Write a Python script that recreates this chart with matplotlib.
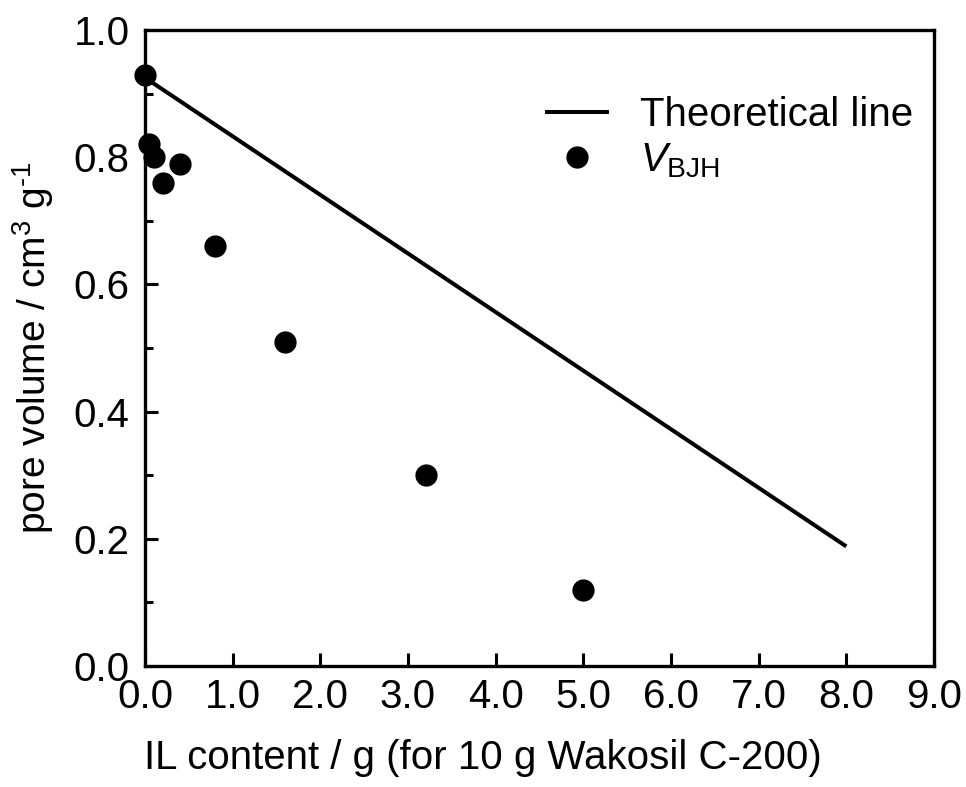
import matplotlib
matplotlib.use("Agg")
import matplotlib.pyplot as plt
from matplotlib.ticker import MultipleLocator, FormatStrFormatter

plt.rcParams['font.family'] = ['Liberation Sans', 'DejaVu Sans']
plt.rcParams['mathtext.fontset'] = 'custom'
plt.rcParams['mathtext.rm'] = 'Liberation Sans'
plt.rcParams['mathtext.it'] = 'Liberation Sans:italic'
plt.rcParams['mathtext.bf'] = 'Liberation Sans:bold'

# Data
theory_x = [0.0, 8.0]
theory_y = [0.925, 0.188]
il_content = [0.0, 0.05, 0.1, 0.2, 0.4, 0.8, 1.6, 3.2, 5.0]
v_bjh = [0.93, 0.82, 0.80, 0.76, 0.79, 0.66, 0.51, 0.30, 0.12]

fig = plt.figure(figsize=(9.66, 7.87), dpi=100)
ax = fig.add_axes([145/966, 1 - 666/787, (934-145)/966, (666-30)/787])

ax.plot(theory_x, theory_y, color='black', lw=2.9, label='Theoretical line', solid_capstyle='butt')
ax.plot(il_content, v_bjh, 'o', color='black', ms=15, label=r'$V_{\mathrm{BJH}}$', clip_on=False, zorder=5)

ax.set_xlim(0, 9)
ax.set_ylim(0, 1.0)
ax.xaxis.set_major_locator(MultipleLocator(1.0))
ax.yaxis.set_major_locator(MultipleLocator(0.2))
ax.yaxis.set_minor_locator(MultipleLocator(0.1))
ax.xaxis.set_major_formatter(FormatStrFormatter('%.1f'))
ax.yaxis.set_major_formatter(FormatStrFormatter('%.1f'))

ax.tick_params(axis='both', which='both', direction='in', top=False, right=False,
               labelsize=29, width=2.2)
ax.tick_params(axis='x', pad=9)
ax.tick_params(axis='y', pad=11)
ax.tick_params(axis='both', which='major', length=9.5)
ax.tick_params(axis='both', which='minor', length=6)
for s in ax.spines.values():
    s.set_linewidth(2.4)

ax.set_xlabel('IL content / g (for 10 g Wakosil C-200)', fontsize=29, labelpad=20)
ax.xaxis.set_label_coords((483-145)/789, -0.115, transform=ax.transAxes)
ax.xaxis.label.set_va('top')
ax.set_ylabel(r'pore volume / cm$^3$ g$^{\text{-1}}$', fontsize=28, labelpad=13)

leg = ax.legend(loc='upper left', bbox_to_anchor=((545-145)/789, (666-96)/636), frameon=False,
                fontsize=29, handlelength=1.6, handletextpad=0.75, labelspacing=0.18,
                borderpad=0, borderaxespad=0)

fig.savefig('out.png', dpi=100)
